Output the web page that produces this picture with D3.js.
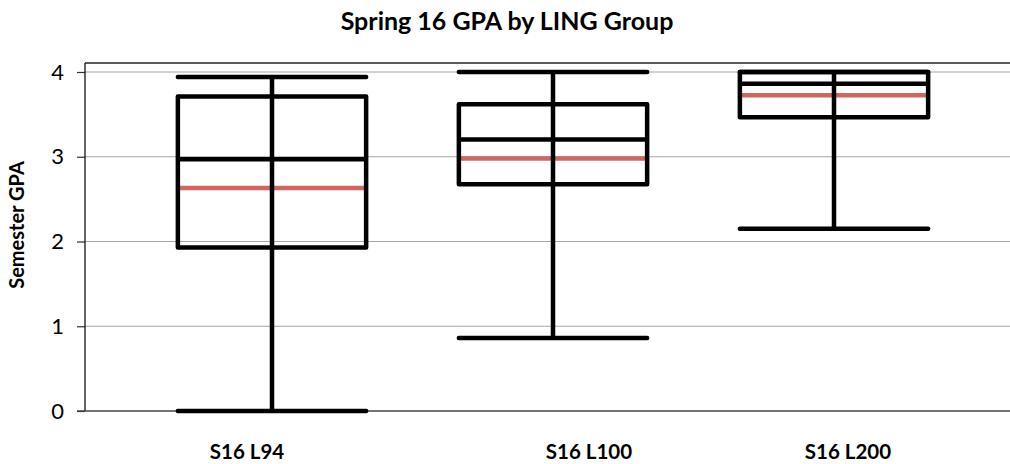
<!DOCTYPE html>
<html>
<head>
<meta charset="utf-8">
<script src="https://cdn.jsdelivr.net/npm/d3@7"></script>
<style>
  html, body { margin: 0; padding: 0; background: #fff; }
  svg { display: block; font-family: Lato, "Open Sans", sans-serif; }
</style>
</head>
<body>
<svg id="chart" width="1010" height="464"></svg>
<script>
const categories = ["S16 L94", "S16 L100", "S16 L200"];
const minValues    = [0.00, 0.86, 2.15];
const q1Values     = [1.93, 2.675, 3.465];
const medianValues = [2.97, 3.205, 3.86];
const q3Values     = [3.71, 3.62, 4.00];
const maxValues    = [3.94, 4.00, 4.00];
const meanValues   = [2.63, 2.98, 3.725];
const yTicks = [0, 1, 2, 3, 4];

const svg = d3.select("#chart");
const plotLeft = 85, plotTop = 63, plotRight = 1010, plotBottom = 411;

const y = d3.scaleLinear().domain([0, 4]).range([411, 72]);
const x = d3.scaleBand().domain(categories).range([131.5, 974.5]).padding(0);
const boxW = x.bandwidth() * 0.67;

const rows = categories.map((c, i) => ({
  cat: c, min: minValues[i], q1: q1Values[i], med: medianValues[i],
  q3: q3Values[i], max: maxValues[i], mean: meanValues[i]
}));

// gridlines
svg.append("g").selectAll("line").data(yTicks.filter(t => t > 0)).join("line")
  .attr("x1", plotLeft).attr("x2", plotRight)
  .attr("y1", d => y(d)).attr("y2", d => y(d))
  .attr("stroke", "#a6a6a6").attr("stroke-width", 1.2);

// top frame
svg.append("line").attr("x1", plotLeft).attr("x2", plotRight)
  .attr("y1", plotTop).attr("y2", plotTop)
  .attr("stroke", "#222").attr("stroke-width", 1.3);

// y axis
const yAxis = d3.axisLeft(y).tickValues(yTicks).tickSize(8).tickPadding(13).tickFormat(d3.format("d"));
const gy = svg.append("g").attr("transform", `translate(${plotLeft},0)`).call(yAxis);
gy.select(".domain").remove();
gy.selectAll(".tick line").attr("stroke", "#333").attr("stroke-width", 1.2);
gy.selectAll(".tick text").attr("font-size", 22).attr("fill", "#000")
  .attr("font-family", "Lato, 'Open Sans', sans-serif");
svg.append("line").attr("x1", plotLeft).attr("x2", plotLeft)
  .attr("y1", plotTop).attr("y2", plotBottom)
  .attr("stroke", "#111").attr("stroke-width", 1.3);

// x axis line
svg.append("line").attr("x1", plotLeft - 8).attr("x2", plotRight)
  .attr("y1", plotBottom).attr("y2", plotBottom)
  .attr("stroke", "#444").attr("stroke-width", 1.6);

// boxes
const g = svg.append("g").selectAll("g").data(rows).join("g")
  .attr("transform", d => `translate(${x(d.cat) + x.bandwidth() / 2},0)`);

g.append("line").attr("x1", -boxW / 2 + 2).attr("x2", boxW / 2 - 2)
  .attr("y1", d => y(d.mean)).attr("y2", d => y(d.mean))
  .attr("stroke", "#d0665f").attr("stroke-width", 4.5);

g.append("rect").attr("x", -boxW / 2).attr("width", boxW)
  .attr("y", d => y(d.q3)).attr("height", d => y(d.q1) - y(d.q3))
  .attr("fill", "none").attr("stroke", "#000").attr("stroke-width", 4.5)
  .attr("stroke-linejoin", "round");

g.append("line").attr("x1", -boxW / 2).attr("x2", boxW / 2)
  .attr("y1", d => y(d.med)).attr("y2", d => y(d.med))
  .attr("stroke", "#000").attr("stroke-width", 4.5);

g.append("line").attr("x1", 0).attr("x2", 0)
  .attr("y1", d => y(d.min)).attr("y2", d => y(d.max))
  .attr("stroke", "#000").attr("stroke-width", 4.5);

g.append("line").attr("x1", -boxW / 2).attr("x2", boxW / 2)
  .attr("y1", d => y(d.max)).attr("y2", d => y(d.max))
  .attr("stroke", "#000").attr("stroke-width", 4.5).attr("stroke-linecap", "round");

g.append("line").attr("x1", -boxW / 2).attr("x2", boxW / 2)
  .attr("y1", d => y(d.min)).attr("y2", d => y(d.min))
  .attr("stroke", "#000").attr("stroke-width", 4.5).attr("stroke-linecap", "round");

// category labels (offset as in the original layout)
const labelShift = [-25, 36, 14];
svg.append("g").selectAll("text").data(categories).join("text")
  .attr("x", (d, i) => x(d) + x.bandwidth() / 2 + labelShift[i])
  .attr("y", 459)
  .attr("text-anchor", "middle").attr("font-size", 20.5).attr("font-weight", "bold")
  .text(d => d);

// title
svg.append("text").attr("x", 507).attr("y", 30).attr("text-anchor", "middle")
  .attr("font-size", 25).attr("font-weight", "bold").text("Spring 16 GPA by LING Group");

// y label
svg.append("text").attr("transform", "translate(24,225) rotate(-90)")
  .attr("text-anchor", "middle").attr("font-size", 20).attr("font-weight", "bold")
  .text("Semester GPA");
</script>
</body>
</html>
